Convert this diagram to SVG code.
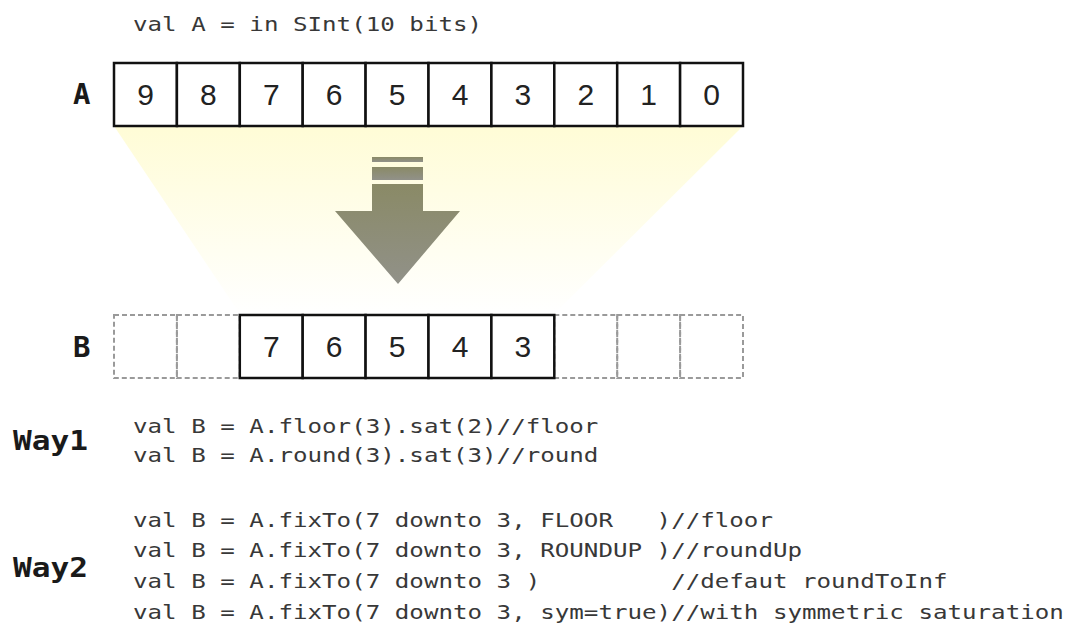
<svg xmlns="http://www.w3.org/2000/svg" width="1070" height="628" viewBox="0 0 1070 628">
  <style>
    .code { font-family: "DejaVu Sans Mono", "Liberation Mono", monospace; font-size: 20px; fill: #383838; white-space: pre; }
    .lbl { font-family: "DejaVu Sans Mono", "Liberation Mono", monospace; font-weight: bold; font-size: 29px; fill: #1a1a1a; }
    .way { font-family: "DejaVu Sans Mono", "Liberation Mono", monospace; font-weight: bold; font-size: 27px; fill: #1a1a1a; }
    .cell { fill: #ffffff; stroke: #111111; stroke-width: 2.5; }
    .dcell { fill: none; stroke: #9a9a9a; stroke-width: 2; stroke-dasharray: 5 3; }
    .dig { font-family: "Liberation Sans", Arial, sans-serif; font-size: 30px; fill: #222222; text-anchor: middle; }
  </style>
  <defs>
    <linearGradient id="beam" x1="0" y1="0" x2="0" y2="1">
      <stop offset="0" stop-color="#fffcd6"/>
      <stop offset="1" stop-color="#ffffff"/>
    </linearGradient>
    <linearGradient id="arrowFill" x1="0" y1="0" x2="0" y2="1">
      <stop offset="0" stop-color="#8a8a66"/>
      <stop offset="1" stop-color="#919189"/>
    </linearGradient>
  </defs>
  <rect width="1070" height="628" fill="#ffffff"/>

  <!-- beam -->
  <polygon points="114,126 743,126 554,314 240,314" fill="url(#beam)"/>

  <!-- title -->
  <g id="title">
    <g transform="translate(133,31) scale(1.2085,1)">
      <text class="code" x="0" y="0">val A = in SInt(10 bits)</text>
    </g>
  </g>

  <!-- A register -->
  <g id="regA">
    <text class="lbl" x="73" y="104">A</text>
    <rect class="cell" x="114" y="63" width="62.9" height="63"/>
    <rect class="cell" x="176.9" y="63" width="62.9" height="63"/>
    <rect class="cell" x="239.8" y="63" width="62.9" height="63"/>
    <rect class="cell" x="302.7" y="63" width="62.9" height="63"/>
    <rect class="cell" x="365.6" y="63" width="62.9" height="63"/>
    <rect class="cell" x="428.5" y="63" width="62.9" height="63"/>
    <rect class="cell" x="491.4" y="63" width="62.9" height="63"/>
    <rect class="cell" x="554.3" y="63" width="62.9" height="63"/>
    <rect class="cell" x="617.2" y="63" width="62.9" height="63"/>
    <rect class="cell" x="680.1" y="63" width="62.9" height="63"/>
    <text class="dig" x="145.5" y="105">9</text>
    <text class="dig" x="208.4" y="105">8</text>
    <text class="dig" x="271.3" y="105">7</text>
    <text class="dig" x="334.2" y="105">6</text>
    <text class="dig" x="397.1" y="105">5</text>
    <text class="dig" x="460" y="105">4</text>
    <text class="dig" x="522.9" y="105">3</text>
    <text class="dig" x="585.8" y="105">2</text>
    <text class="dig" x="648.7" y="105">1</text>
    <text class="dig" x="711.6" y="105">0</text>
  </g>

  <!-- connector arrow -->
  <g id="connectors">
    <g fill="url(#arrowFill)">
      <rect x="372" y="157" width="51" height="5"/>
      <rect x="372" y="167" width="51" height="13"/>
      <polygon points="372,184 423,184 423,211 460,211 398,284 335,211 372,211"/>
    </g>
  </g>

  <!-- B register -->
  <g id="regB">
    <text class="lbl" x="73" y="357">B</text>
    <rect class="dcell" x="114" y="315" width="62.9" height="63"/>
    <rect class="dcell" x="176.9" y="315" width="62.9" height="63"/>
    <rect class="dcell" x="554.3" y="315" width="62.9" height="63"/>
    <rect class="dcell" x="617.2" y="315" width="62.9" height="63"/>
    <rect class="dcell" x="680.1" y="315" width="62.9" height="63"/>
    <rect class="cell" x="239.8" y="315" width="62.9" height="63"/>
    <rect class="cell" x="302.7" y="315" width="62.9" height="63"/>
    <rect class="cell" x="365.6" y="315" width="62.9" height="63"/>
    <rect class="cell" x="428.5" y="315" width="62.9" height="63"/>
    <rect class="cell" x="491.4" y="315" width="62.9" height="63"/>
    <text class="dig" x="271.3" y="357">7</text>
    <text class="dig" x="334.2" y="357">6</text>
    <text class="dig" x="397.1" y="357">5</text>
    <text class="dig" x="460" y="357">4</text>
    <text class="dig" x="522.9" y="357">3</text>
  </g>

  <!-- Way1 -->
  <g id="way1">
    <text class="way" x="13" y="450" textLength="75" lengthAdjust="spacingAndGlyphs">Way1</text>
    <g transform="translate(133,0) scale(1.2085,1)">
      <text class="code" x="0" y="433">val B = A.floor(3).sat(2)//floor</text>
      <text class="code" x="0" y="462">val B = A.round(3).sat(3)//round</text>
    </g>
  </g>

  <!-- Way2 -->
  <g id="way2">
    <text class="way" x="13" y="577" textLength="75" lengthAdjust="spacingAndGlyphs">Way2</text>
    <g transform="translate(133,0) scale(1.2085,1)">
      <text class="code" x="0" y="527" xml:space="preserve">val B = A.fixTo(7 downto 3, FLOOR   )//floor</text>
      <text class="code" x="0" y="557" xml:space="preserve">val B = A.fixTo(7 downto 3, ROUNDUP )//roundUp</text>
      <text class="code" x="0" y="588" xml:space="preserve">val B = A.fixTo(7 downto 3 )         //defaut roundToInf</text>
      <text class="code" x="0" y="619" xml:space="preserve">val B = A.fixTo(7 downto 3, sym=true)//with symmetric saturation</text>
    </g>
  </g>
</svg>
